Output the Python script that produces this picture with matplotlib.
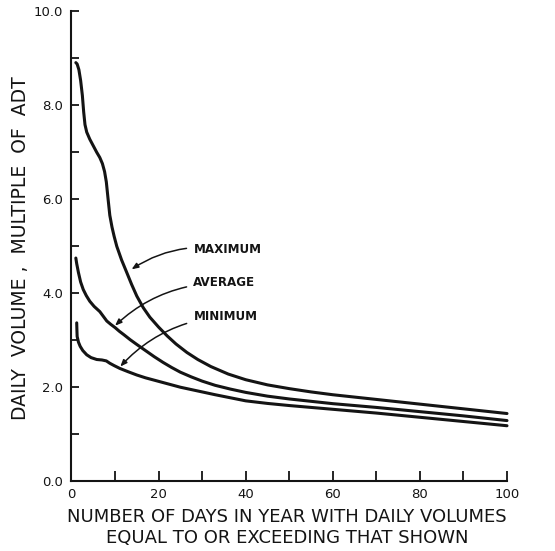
import matplotlib
matplotlib.use("Agg")
import matplotlib.pyplot as plt

# Days in year with daily volume equal to or exceeding the value shown
max_days = [1.0, 1.3, 1.7, 2.1, 2.5, 2.8, 3.1, 3.5, 4.2, 5.0, 5.8, 6.5, 7.1, 7.6, 8.0,
            8.4, 8.8, 9.3, 9.8, 10.4, 11.5, 12.7, 13.8, 15.0, 16.5, 18.0, 20.0, 22.0,
            24.0, 26.5, 29.0, 32.0, 36.0, 40.0, 45.0, 50.0, 55.0, 60.0, 70.0, 80.0,
            90.0, 100.0]
max_vol = [8.90, 8.87, 8.75, 8.52, 8.20, 7.85, 7.58, 7.42, 7.27, 7.13, 6.99, 6.88, 6.75,
           6.58, 6.36, 6.00, 5.65, 5.40, 5.20, 4.99, 4.70, 4.43, 4.18, 3.93, 3.68, 3.48,
           3.27, 3.08, 2.91, 2.73, 2.58, 2.43, 2.27, 2.15, 2.04, 1.96, 1.89, 1.83, 1.73,
           1.63, 1.53, 1.43]

avg_days = [1.0, 1.2, 1.6, 2.1, 2.7, 3.4, 4.2, 5.2, 6.5, 7.3, 8.1, 9.0, 10.0, 11.0,
            12.0, 13.5, 15.0, 17.0, 19.0, 21.0, 23.0, 25.0, 27.5, 30.0, 33.0, 36.5,
            40.0, 45.0, 50.0, 55.0, 60.0, 70.0, 80.0, 90.0, 100.0]
avg_vol = [4.74, 4.62, 4.43, 4.23, 4.07, 3.94, 3.82, 3.71, 3.60, 3.50, 3.40, 3.33, 3.26,
           3.18, 3.11, 3.00, 2.90, 2.77, 2.64, 2.52, 2.41, 2.31, 2.21, 2.12, 2.03, 1.95,
           1.88, 1.80, 1.74, 1.69, 1.64, 1.56, 1.47, 1.38, 1.28]

min_days = [1.2, 1.25, 1.3, 1.6, 2.0, 2.6, 3.5, 4.5, 5.8, 7.0, 8.0, 8.8, 9.8, 11.1,
            13.0, 15.0, 17.0, 19.0, 21.0, 23.0, 25.0, 27.5, 30.0, 33.0, 36.5, 40.0,
            45.0, 50.0, 55.0, 60.0, 70.0, 80.0, 90.0, 100.0]
min_vol = [3.36, 3.20, 3.07, 2.95, 2.86, 2.77, 2.68, 2.62, 2.58, 2.57, 2.55, 2.50, 2.45,
           2.39, 2.32, 2.25, 2.19, 2.14, 2.09, 2.04, 1.99, 1.94, 1.89, 1.83, 1.765, 1.70,
           1.645, 1.60, 1.56, 1.52, 1.44, 1.35, 1.26, 1.17]

curve_labels = ["MAXIMUM", "AVERAGE", "MINIMUM"]
label_anchor_y = [4.92, 4.21, 3.50]
arrow_tips = [(13.8, 4.50), (10.0, 3.30), (11.2, 2.43)]

x_ticks = [0, 20, 40, 60, 80, 100]
y_ticks = [0.0, 2.0, 4.0, 6.0, 8.0, 10.0]

ink = "#141414"
plt.rcParams["font.family"] = ["DejaVu Sans"]

fig = plt.figure(figsize=(5.55, 5.51), dpi=100)
ax = fig.add_axes([0.1288, 0.1276, 0.7847, 0.8525])

for xs, ys in [(max_days, max_vol), (avg_days, avg_vol), (min_days, min_vol)]:
    ax.plot(xs, ys, color=ink, lw=2.2, solid_capstyle="round",
            solid_joinstyle="round", clip_on=False)

ax.set_xlim(0, 100)
ax.set_ylim(0, 10)

for side in ("top", "right"):
    ax.spines[side].set_visible(False)
for side in ("left", "bottom"):
    ax.spines[side].set_linewidth(1.5)
    ax.spines[side].set_color(ink)

ax.set_xticks(x_ticks)
ax.set_xticklabels([str(v) for v in x_ticks])
ax.set_xticks(range(10, 100, 20), minor=True)
ax.set_yticks(y_ticks)
ax.set_yticklabels([f"{v:.1f}" for v in y_ticks])
ax.set_yticks(range(1, 10, 2), minor=True)

ax.tick_params(axis="both", which="both", direction="in", color=ink, width=1.3,
               labelsize=9.5, labelcolor=ink)
ax.tick_params(axis="x", which="both", length=7, pad=5)
ax.tick_params(axis="y", which="both", length=6, pad=6)

ax.set_ylabel("DAILY  VOLUME ,  MULTIPLE  OF  ADT", fontsize=13.5, color=ink)
ax.yaxis.label.set_va("center")
ax.yaxis.set_label_coords(-0.118, 0.495)
ax.set_xlabel("NUMBER OF DAYS IN YEAR WITH DAILY VOLUMES\nEQUAL TO OR EXCEEDING THAT SHOWN",
              fontsize=13, color=ink, linespacing=1.2)
ax.xaxis.set_label_coords(0.495, -0.058)
ax.xaxis.label.set_va("top")

for name, ty, tip in zip(curve_labels, label_anchor_y, arrow_tips):
    ax.annotate(name, xy=tip, xytext=(28.0, ty), fontsize=8.6, fontweight="bold",
                color=ink, va="center", ha="left",
                arrowprops=dict(arrowstyle="-|>,head_length=0.45,head_width=0.18",
                                color=ink, lw=1.1, shrinkA=3, shrinkB=0,
                                connectionstyle="arc3,rad=0.2"))

fig.savefig("out.png", dpi=100, facecolor="white")
